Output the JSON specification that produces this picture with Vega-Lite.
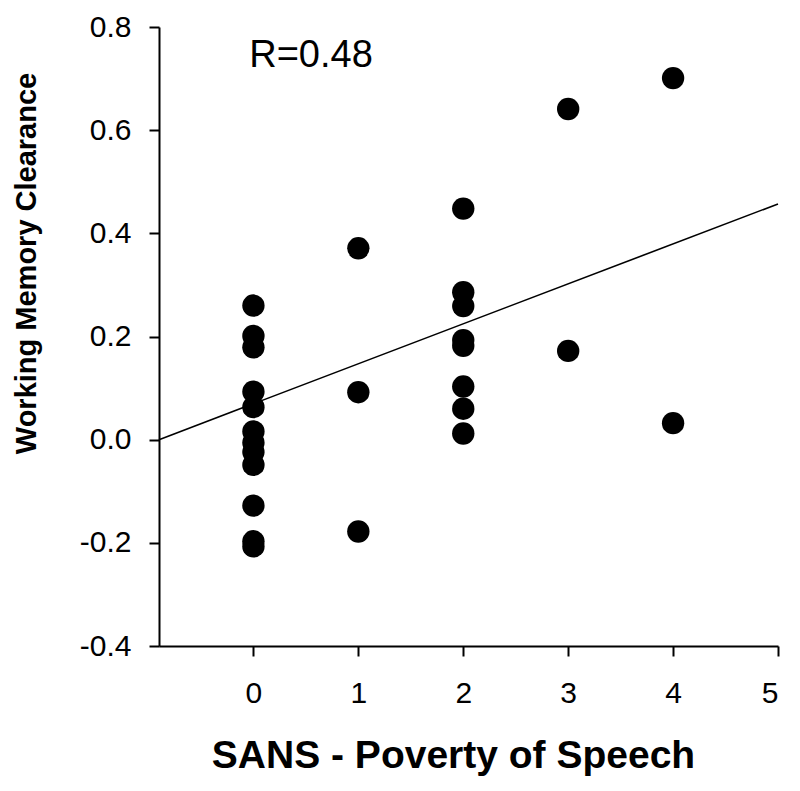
{
  "$schema": "https://vega.github.io/schema/vega-lite/v6.json",
  "width": 619,
  "height": 619,
  "autosize": {"type": "none"},
  "padding": {"left": 159, "top": 27, "right": 22, "bottom": 145},
  "background": "white",
  "config": {
    "view": {"stroke": null},
    "font": "Liberation Sans",
    "axis": {
      "grid": false,
      "domainColor": "black",
      "domainWidth": 2,
      "tickColor": "black",
      "tickWidth": 2,
      "tickSize": 10,
      "labelColor": "black",
      "titleColor": "black",
      "labelFont": "Liberation Sans",
      "titleFont": "Liberation Sans"
    }
  },
  "layer": [
    {
      "data": {
        "values": [
          {"poverty": 0, "wmc": 0.26},
          {"poverty": 0, "wmc": 0.201},
          {"poverty": 0, "wmc": 0.179},
          {"poverty": 0, "wmc": 0.093},
          {"poverty": 0, "wmc": 0.063},
          {"poverty": 0, "wmc": 0.016},
          {"poverty": 0, "wmc": -0.006},
          {"poverty": 0, "wmc": -0.024},
          {"poverty": 0, "wmc": -0.049},
          {"poverty": 0, "wmc": -0.128},
          {"poverty": 0, "wmc": -0.197},
          {"poverty": 0, "wmc": -0.207},
          {"poverty": 1, "wmc": 0.371},
          {"poverty": 1, "wmc": 0.092},
          {"poverty": 1, "wmc": -0.178},
          {"poverty": 2, "wmc": 0.448},
          {"poverty": 2, "wmc": 0.286},
          {"poverty": 2, "wmc": 0.259},
          {"poverty": 2, "wmc": 0.193},
          {"poverty": 2, "wmc": 0.182},
          {"poverty": 2, "wmc": 0.103},
          {"poverty": 2, "wmc": 0.06},
          {"poverty": 2, "wmc": 0.012},
          {"poverty": 3, "wmc": 0.641},
          {"poverty": 3, "wmc": 0.172},
          {"poverty": 4, "wmc": 0.701},
          {"poverty": 4, "wmc": 0.032}
        ]
      },
      "mark": {"type": "point", "filled": true, "shape": "circle", "size": 500, "color": "black", "opacity": 1},
      "encoding": {
        "x": {
          "field": "poverty",
          "type": "quantitative",
          "scale": {"domain": [-0.9, 5], "nice": false, "zero": false},
          "axis": {
            "values": [0, 1, 2, 3, 4, 5],
            "format": "d",
            "labelFontSize": 30,
            "labelPadding": 22,
            "title": "SANS - Poverty of Speech",
            "titleFontSize": 39,
            "titleFontWeight": "bold",
            "titleX": 294,
            "titleY": 121,
            "titleBaseline": "alphabetic",
            "titleAlign": "center"
          }
        },
        "y": {
          "field": "wmc",
          "type": "quantitative",
          "scale": {"domain": [-0.4, 0.8], "nice": false, "zero": false},
          "axis": {
            "values": [-0.4, -0.2, 0, 0.2, 0.4, 0.6, 0.8],
            "labelExpr": "datum.value < -0.0001 ? '-' + format(-datum.value, '.1f') : format(datum.value, '.1f')",
            "labelFontSize": 30,
            "labelPadding": 18,
            "title": "Working Memory Clearance",
            "titleFontSize": 29,
            "titleFontWeight": "bold",
            "titleX": -124,
            "titleY": 236,
            "titleBaseline": "alphabetic",
            "titleAlign": "center",
            "titleAngle": -90
          }
        }
      }
    },
    {
      "data": {
        "values": [
          {"poverty": -0.9, "wmc": 0.0},
          {"poverty": 5, "wmc": 0.457}
        ]
      },
      "mark": {"type": "line", "color": "black", "strokeWidth": 1.6},
      "encoding": {
        "x": {"field": "poverty", "type": "quantitative"},
        "y": {"field": "wmc", "type": "quantitative"}
      }
    },
    {
      "data": {"values": [{"label": "R=0.48"}]},
      "mark": {"type": "text", "align": "left", "baseline": "alphabetic", "fontSize": 38, "font": "Liberation Sans", "color": "black"},
      "encoding": {
        "x": {"datum": -0.04, "type": "quantitative"},
        "y": {"datum": 0.723, "type": "quantitative"},
        "text": {"field": "label", "type": "nominal"}
      }
    }
  ]
}
